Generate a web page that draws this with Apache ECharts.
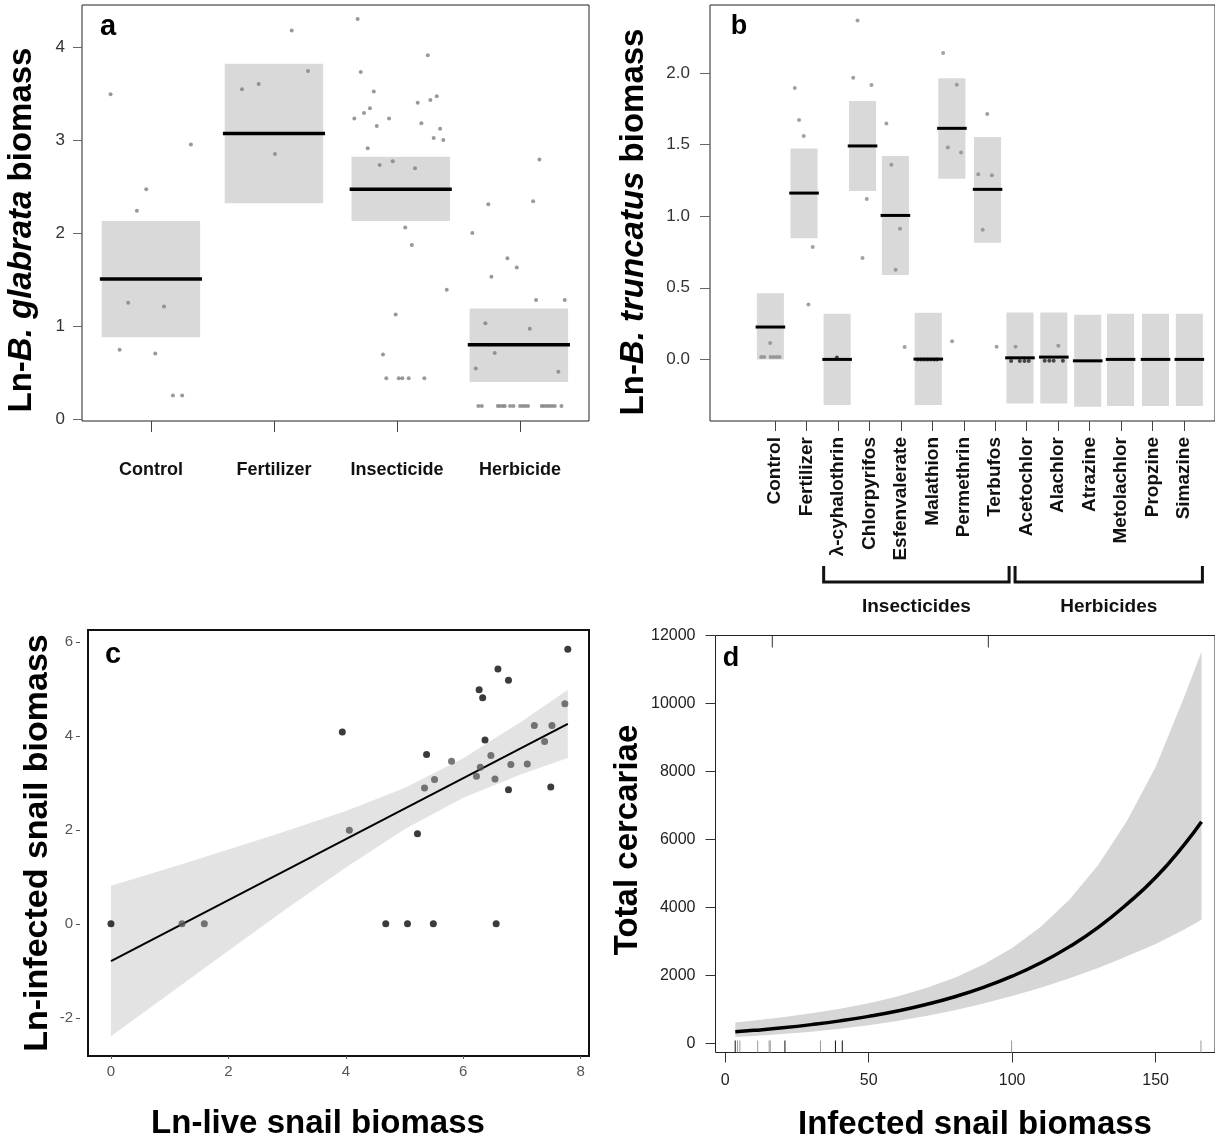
<!DOCTYPE html>
<html>
<head>
<meta charset="utf-8">
<title>Snail biomass panels</title>
<script src="https://cdn.jsdelivr.net/npm/echarts@6/dist/echarts.min.js"></script>
<style>
    html, body { margin: 0; padding: 0; background: #fff; }
    #chart { width: 1215px; height: 1141px; }
</style>
</head>
<body>
<div id="chart"></div>
<script>

// ------------------------------
// Data
// ------------------------------

// Panel a - B. glabrata
var aCategories = ['Control', 'Fertilizer', 'Insecticide', 'Herbicide'];
var aBoxCenters = [1.0, 2.0, 3.03, 3.99];
var aBoxLow = [0.88, 2.32, 2.13, 0.40];
var aBoxHigh = [2.13, 3.82, 2.82, 1.19];
var aMeans = [1.505, 3.07, 2.47, 0.80];
var aControlPts = [[0.672, 3.49], [1.325, 2.95], [0.962, 2.47], [0.886, 2.24], [0.815, 1.25],
    [1.106, 1.21], [0.746, 0.745], [1.035, 0.706], [1.179, 0.255], [1.254, 0.255]];
var aFertilizerPts = [[2.144, 4.175], [2.276, 3.74], [1.740, 3.545], [1.876, 3.60], [2.008, 2.85]];
var aInsecticidePts = [[2.680, 4.30], [3.250, 3.91], [2.705, 3.73], [2.811, 3.52], [3.323, 3.47],
    [3.271, 3.43], [3.168, 3.40], [2.780, 3.34], [2.732, 3.29], [2.653, 3.23], [2.935, 3.23],
    [3.198, 3.18], [2.835, 3.15], [3.350, 3.12], [3.298, 3.02], [3.376, 3.00], [2.762, 2.91],
    [2.859, 2.73], [2.965, 2.77], [3.146, 2.695], [3.067, 2.06], [3.120, 1.87], [3.404, 1.39],
    [2.989, 1.125], [2.886, 0.695], [2.913, 0.44], [3.014, 0.44], [3.043, 0.44], [3.095, 0.44],
    [3.222, 0.44]];
var aHerbicidePts = [[4.157, 2.79], [3.742, 2.31], [4.106, 2.34], [3.612, 2.00], [3.897, 1.73],
    [3.973, 1.63], [3.767, 1.53], [4.130, 1.28], [4.363, 1.28], [3.718, 1.03], [4.079, 0.97],
    [3.794, 0.71], [3.640, 0.545], [4.311, 0.51],
    [3.661, 0.14], [3.689, 0.14], [3.819, 0.14], [3.837, 0.14], [3.859, 0.14], [3.876, 0.14],
    [3.919, 0.14], [3.946, 0.14], [4.000, 0.14], [4.022, 0.14], [4.043, 0.14], [4.065, 0.14],
    [4.176, 0.14], [4.195, 0.14], [4.217, 0.14], [4.238, 0.14], [4.260, 0.14], [4.282, 0.14],
    [4.336, 0.14]];
var aYTicks = [0, 1, 2, 3, 4];

// Panel b - B. truncatus
var bCategories = ['Control', 'Fertilizer', 'λ-cyhalothrin', 'Chlorpyrifos', 'Esfenvalerate',
    'Malathion', 'Permethrin', 'Terbufos', 'Acetochlor', 'Alachlor', 'Atrazine', 'Metolachlor',
    'Propzine', 'Simazine'];
var bBoxCenters = [0.858, 1.927, 2.978, 3.785, 4.829, 5.873, 6.623, 7.756, 8.785, 9.861,
    10.937, 11.98, 13.09, 14.165];
var bBoxLow = [0.0, 0.845, -0.319, 1.175, 0.589, -0.319, 1.261, 0.814, -0.307, -0.307, -0.331,
    -0.326, -0.326, -0.326];
var bBoxHigh = [0.461, 1.473, 0.318, 1.804, 1.42, 0.325, 1.962, 1.552, 0.328, 0.328, 0.311,
    0.318, 0.318, 0.318];
var bMeans = [0.226, 1.161, 0.0, 1.49, 1.005, 0.002, 1.613, 1.187, 0.011, 0.016, -0.01, 0.0, 0.0, 0.0];
var bGrayPts = [[0.851, 0.114],
    [0.565, 0.016], [0.66, 0.016], [0.866, 0.016], [0.96, 0.016], [1.055, 0.016], [1.15, 0.016],
    [1.633, 1.895], [1.769, 1.671], [1.917, 1.559], [2.202, 0.784], [2.066, 0.384],
    [3.625, 2.365], [3.489, 1.967], [4.068, 1.915], [3.919, 1.12], [3.783, 0.707],
    [4.542, 1.646], [4.700, 1.359], [4.975, 0.912], [4.836, 0.626], [5.121, 0.086],
    [6.345, 2.139], [6.778, 1.918], [6.493, 1.48], [6.914, 1.445], [6.630, 0.126],
    [7.746, 1.713], [7.461, 1.292], [7.894, 1.285], [7.600, 0.905], [8.043, 0.088],
    [8.644, 0.088], [10.004, 0.095]];
var bDarkPts = [[2.970, 0.014],
    [5.532, 0.0], [5.640, 0.0], [5.744, 0.0], [5.848, 0.0], [5.956, 0.0], [6.060, 0.0], [6.155, 0.0],
    [8.505, -0.012], [8.780, -0.012], [8.929, -0.012], [9.065, -0.012],
    [9.570, -0.01], [9.719, -0.01], [9.855, -0.01], [10.149, -0.01]];
var bYTicks = [0, 0.5, 1, 1.5, 2];
var bGroupNames = ['Insecticides', 'Herbicides'];
var bGroupStart = [2.55, 8.63];
var bGroupEnd = [8.44, 14.58];

// Panel c - infected vs live snail biomass
var cBlackPts = [[7.78, 5.84], [6.59, 5.42], [6.77, 5.18], [6.27, 4.98], [6.33, 4.81], [3.94, 4.08],
    [6.37, 3.91], [5.375, 3.60], [6.77, 2.85], [7.49, 2.91], [5.22, 1.915],
    [0, 0], [4.68, 0], [5.05, 0], [5.49, 0], [6.56, 0]];
var cGrayPts = [[7.73, 4.68], [7.21, 4.22], [7.51, 4.22], [7.385, 3.88], [5.80, 3.46], [6.47, 3.58],
    [6.29, 3.33], [6.225, 3.14], [6.54, 3.08], [6.81, 3.39], [7.09, 3.40], [5.51, 3.07],
    [5.34, 2.89], [4.06, 1.99], [1.21, 0], [1.59, 0]];
var cFitX = [0, 7.78];
var cFitY = [-0.79, 4.255];
var cBandX = [0, 1, 2, 3, 4, 5, 6, 7, 7.78];
var cBandUpper = [0.81, 1.19, 1.58, 1.98, 2.40, 2.89, 3.52, 4.31, 4.98];
var cBandLower = [-2.39, -1.48, -0.57, 0.33, 1.20, 2.01, 2.68, 3.19, 3.53];
var cXTicks = [0, 2, 4, 6, 8];
var cYTicks = [-2, 0, 2, 4, 6];

// Panel d - total cercariae
var dX = [3.5, 10, 20, 30, 40, 50, 60, 70, 80, 90, 100, 110, 120, 130, 140, 150, 160, 166];
var dFit = [343, 386, 462, 555, 665, 798, 957, 1148, 1376, 1651, 1980, 2375, 2849, 3417, 4098,
    4880, 5850, 6520];
var dUpper = [617, 673, 770, 886, 1022, 1186, 1385, 1629, 1933, 2320, 2810, 3437, 4234, 5252,
    6545, 8130, 10202, 11520];
var dLower = [191, 221, 277, 347, 433, 537, 661, 809, 980, 1175, 1396, 1641, 1917, 2224, 2565,
    2928, 3352, 3640];
var dRugDark = [3.47, 20.8, 38.4, 40.8];
var dRugLight = [4.28, 5.09, 11.3, 15.3, 15.7, 33.2, 99.8, 165.8];
var dTopMarks = [16.4, 91.7];
var dXTicks = [0, 50, 100, 150];
var dYTicks = [0, 2000, 4000, 6000, 8000, 10000, 12000];


// ------------------------------
// Setup
// ------------------------------

var FONT = '"Liberation Sans", Arial, Helvetica, sans-serif';

var bYMin = -0.43, dYMin = -265, dYMax = 12000;

function valueAxis(gridIndex, min, max, ticks, tick, label) {
    return {
        type: 'value',
        gridIndex: gridIndex,
        min: min,
        max: max,
        offset: tick.offset || 0,
        splitLine: {show: false},
        axisLine: {show: false, onZero: false},
        axisTick: {
            show: true,
            customValues: ticks,
            length: tick.length,
            lineStyle: {color: tick.color || '#444', width: 1}
        },
        axisLabel: Object.assign({
            customValues: ticks,
            fontFamily: FONT,
            formatter: function(v) { return String(v); }
        }, label)
    };
}

function boxSeries(xi, centers, lows, highs, half, color) {
    return {
        type: 'custom',
        xAxisIndex: xi,
        yAxisIndex: xi,
        silent: true,
        z: 1,
        data: centers.map(function(c, i) { return [c, lows[i], highs[i]]; }),
        encode: {x: 0, y: [1, 2]},
        renderItem: function(params, api) {
            var p1 = api.coord([api.value(0) - half, api.value(2)]);
            var p2 = api.coord([api.value(0) + half, api.value(1)]);
            return {
                type: 'rect',
                shape: {x: p1[0], y: p1[1], width: p2[0] - p1[0], height: p2[1] - p1[1]},
                style: {fill: color}
            };
        }
    };
}

function meanSeries(xi, centers, means, half, width) {
    return {
        type: 'custom',
        xAxisIndex: xi,
        yAxisIndex: xi,
        silent: true,
        z: 4,
        data: centers.map(function(c, i) { return [c, means[i]]; }),
        encode: {x: 0, y: 1},
        renderItem: function(params, api) {
            var p1 = api.coord([api.value(0) - half, api.value(1)]);
            var p2 = api.coord([api.value(0) + half, api.value(1)]);
            return {
                type: 'line',
                shape: {x1: p1[0], y1: p1[1], x2: p2[0], y2: p2[1]},
                style: {stroke: '#000', lineWidth: width}
            };
        }
    };
}

function scatterSeries(xi, name, pts, size, color) {
    return {
        type: 'scatter',
        name: name,
        xAxisIndex: xi,
        yAxisIndex: xi,
        symbolSize: size,
        z: 3,
        itemStyle: {color: color},
        data: pts
    };
}

function bandSeries(xi, xs, lows, highs, color) {
    return {
        type: 'custom',
        xAxisIndex: xi,
        yAxisIndex: xi,
        silent: true,
        z: 1,
        data: xs.map(function(x, i) { return [x, lows[i], highs[i]]; }),
        encode: {x: 0, y: [1, 2]},
        renderItem: function(params, api) {
            if (params.dataIndex !== 0) return null;
            var pts = [];
            for (var i = 0; i < xs.length; i++) pts.push(api.coord([xs[i], highs[i]]));
            for (var j = xs.length - 1; j >= 0; j--) pts.push(api.coord([xs[j], lows[j]]));
            return {type: 'polygon', shape: {points: pts}, style: {fill: color}};
        }
    };
}

function rugSeries(values, yRef, dir, color) {
    return {
        type: 'custom',
        xAxisIndex: 3,
        yAxisIndex: 3,
        silent: true,
        z: 2,
        data: values.map(function(v) { return [v, yRef]; }),
        encode: {x: 0, y: 1},
        renderItem: function(params, api) {
            var p = api.coord([api.value(0), yRef]);
            return {
                type: 'line',
                shape: {x1: p[0], y1: p[1], x2: p[0], y2: p[1] + dir * 12},
                style: {stroke: color, lineWidth: 1}
            };
        }
    };
}

var chart = echarts.init(document.getElementById('chart'), null, {renderer: 'canvas'});

var gridStyle = {show: true, borderColor: '#222', borderWidth: 1, backgroundColor: '#fff'};

chart.setOption({
    animation: false,
    backgroundColor: '#fff',
    textStyle: {fontFamily: FONT},

    grid: [
        Object.assign({left: 82, top: 5, width: 507, height: 416}, gridStyle),
        Object.assign({left: 710, top: 5, width: 507, height: 416}, gridStyle),
        Object.assign({}, gridStyle, {left: 88, top: 630, width: 501, height: 426,
            borderColor: '#111', borderWidth: 2}),
        Object.assign({left: 715.5, top: 635.5, width: 502, height: 417}, gridStyle)
    ],

    xAxis: [
        valueAxis(0, 0.44, 4.56, [1, 2, 3, 4], {length: 11},
            {margin: 40, fontSize: 18, fontWeight: 'bold', color: '#111',
             formatter: function(v) { return aCategories[v - 1]; }}),
        valueAxis(1, -1.06, 14.98, bCategories.map(function(c, i) { return i + 1; }), {length: 10},
            {margin: 16, rotate: 90, fontSize: 19, fontWeight: 'bold', color: '#111',
             formatter: function(v) { return bCategories[v - 1]; }}),
        valueAxis(2, -0.391, 8.141, cXTicks, {length: 3, color: '#555'},
            {margin: 8, fontSize: 15, color: '#555'}),
        valueAxis(3, -3.4, 170.7, dXTicks, {length: 10, color: '#333'},
            {margin: 20, fontSize: 16, color: '#222'})
    ],

    yAxis: [
        valueAxis(0, -0.02, 4.45, aYTicks, {length: 9, color: '#666'},
            {margin: 17, fontSize: 17, color: '#333'}),
        valueAxis(1, bYMin, 2.474, bYTicks, {length: 10, color: '#666'},
            {margin: 20, fontSize: 17, color: '#333',
             formatter: function(v) { return v.toFixed(1); }}),
        valueAxis(2, -2.81, 6.25, cYTicks, {length: 4, color: '#555', offset: 8},
            {margin: 7, fontSize: 15, color: '#555'}),
        valueAxis(3, dYMin, dYMax, dYTicks, {length: 10, color: '#333'},
            {margin: 20, fontSize: 16, color: '#222'})
    ],

    series: [
        // Panel a
        boxSeries(0, aBoxCenters, aBoxLow, aBoxHigh, 0.40, '#d9d9d9'),
        meanSeries(0, aBoxCenters, aMeans, 0.415, 3.5),
        scatterSeries(0, 'Control', aControlPts, 4, '#7f7f7f'),
        scatterSeries(0, 'Fertilizer', aFertilizerPts, 4, '#7f7f7f'),
        scatterSeries(0, 'Insecticide', aInsecticidePts, 4, '#7f7f7f'),
        scatterSeries(0, 'Herbicide', aHerbicidePts, 4, '#7f7f7f'),

        // Panel b
        boxSeries(1, bBoxCenters, bBoxLow, bBoxHigh, 0.43, '#d9d9d9'),
        meanSeries(1, bBoxCenters, bMeans, 0.47, 3),
        scatterSeries(1, 'b points', bGrayPts, 4, '#8a8a8a'),
        scatterSeries(1, 'b zero points', bDarkPts, 4, '#222'),
        {
            type: 'custom',
            xAxisIndex: 1,
            yAxisIndex: 1,
            silent: true,
            clip: false,
            data: bGroupNames.map(function(n, i) { return [bGroupStart[i], bGroupEnd[i]]; }),
            encode: {x: [0, 1]},
            renderItem: function(params, api) {
                var p1 = api.coord([api.value(0), bYMin]);
                var p2 = api.coord([api.value(1), bYMin]);
                var base = p1[1];
                return {
                    type: 'group',
                    children: [{
                        type: 'polyline',
                        shape: {points: [[p1[0], base + 145], [p1[0], base + 161],
                                         [p2[0], base + 161], [p2[0], base + 145]]},
                        style: {stroke: '#111', lineWidth: 3, fill: null}
                    }, {
                        type: 'text',
                        style: {
                            text: bGroupNames[params.dataIndex],
                            x: (p1[0] + p2[0]) / 2,
                            y: base + 186,
                            align: 'center',
                            verticalAlign: 'middle',
                            fontFamily: FONT,
                            fontSize: 19,
                            fontWeight: 'bold',
                            fill: '#111'
                        }
                    }]
                };
            }
        },

        // Panel c
        bandSeries(2, cBandX, cBandLower, cBandUpper, '#e3e3e3'),
        {
            type: 'line',
            xAxisIndex: 2,
            yAxisIndex: 2,
            showSymbol: false,
            silent: true,
            z: 2,
            lineStyle: {color: '#000', width: 2},
            data: cFitX.map(function(x, i) { return [x, cFitY[i]]; })
        },
        scatterSeries(2, 'dark', cBlackPts, 7, '#0a0a0a'),
        scatterSeries(2, 'gray', cGrayPts, 7, '#555'),

        // Panel d
        bandSeries(3, dX, dLower, dUpper, '#d6d6d6'),
        {
            type: 'line',
            xAxisIndex: 3,
            yAxisIndex: 3,
            showSymbol: false,
            silent: true,
            smooth: true,
            z: 3,
            lineStyle: {color: '#000', width: 3.5},
            data: dX.map(function(x, i) { return [x, dFit[i]]; })
        },
        rugSeries(dRugDark, dYMin, -1, '#111'),
        rugSeries(dRugLight, dYMin, -1, '#9a9a9a'),
        rugSeries(dTopMarks, dYMax, 1, '#333')
    ],

    graphic: [
        {type: 'text', x: 108, y: 27, style: {text: 'a', align: 'center', verticalAlign: 'middle',
            fontFamily: FONT, fontSize: 29, fontWeight: 'bold', fill: '#000'}},
        {type: 'text', x: 739, y: 27, style: {text: 'b', align: 'center', verticalAlign: 'middle',
            fontFamily: FONT, fontSize: 27, fontWeight: 'bold', fill: '#000'}},
        {type: 'text', x: 113, y: 655, style: {text: 'c', align: 'center', verticalAlign: 'middle',
            fontFamily: FONT, fontSize: 29, fontWeight: 'bold', fill: '#000'}},
        {type: 'text', x: 731, y: 659, style: {text: 'd', align: 'center', verticalAlign: 'middle',
            fontFamily: FONT, fontSize: 27, fontWeight: 'bold', fill: '#000'}},

        {type: 'text', x: 22, y: 230, rotation: Math.PI / 2, style: {
            text: '{n|Ln-}{i|B. glabrata}{n| biomass}', align: 'center', verticalAlign: 'middle',
            rich: {
                n: {fontFamily: FONT, fontSize: 33, fontWeight: 'bold', fill: '#000'},
                i: {fontFamily: FONT, fontSize: 33, fontWeight: 'bold', fontStyle: 'italic', fill: '#000'}
            }}},
        {type: 'text', x: 634, y: 222, rotation: Math.PI / 2, style: {
            text: '{n|Ln-}{i|B. truncatus}{n| biomass}', align: 'center', verticalAlign: 'middle',
            rich: {
                n: {fontFamily: FONT, fontSize: 33, fontWeight: 'bold', fill: '#000'},
                i: {fontFamily: FONT, fontSize: 33, fontWeight: 'bold', fontStyle: 'italic', fill: '#000'}
            }}},
        {type: 'text', x: 38, y: 843, rotation: Math.PI / 2, style: {
            text: 'Ln-infected snail biomass', align: 'center', verticalAlign: 'middle',
            fontFamily: FONT, fontSize: 34, fontWeight: 'bold', fill: '#000'}},
        {type: 'text', x: 628, y: 840, rotation: Math.PI / 2, style: {
            text: 'Total cercariae', align: 'center', verticalAlign: 'middle',
            fontFamily: FONT, fontSize: 33, fontWeight: 'bold', fill: '#000'}},
        {type: 'text', x: 318, y: 1124, style: {
            text: 'Ln-live snail biomass', align: 'center', verticalAlign: 'middle',
            fontFamily: FONT, fontSize: 33, fontWeight: 'bold', fill: '#000'}},
        {type: 'text', x: 975, y: 1125, style: {
            text: 'Infected snail biomass', align: 'center', verticalAlign: 'middle',
            fontFamily: FONT, fontSize: 33, fontWeight: 'bold', fill: '#000'}}
    ]
});

</script>
</body>
</html>
